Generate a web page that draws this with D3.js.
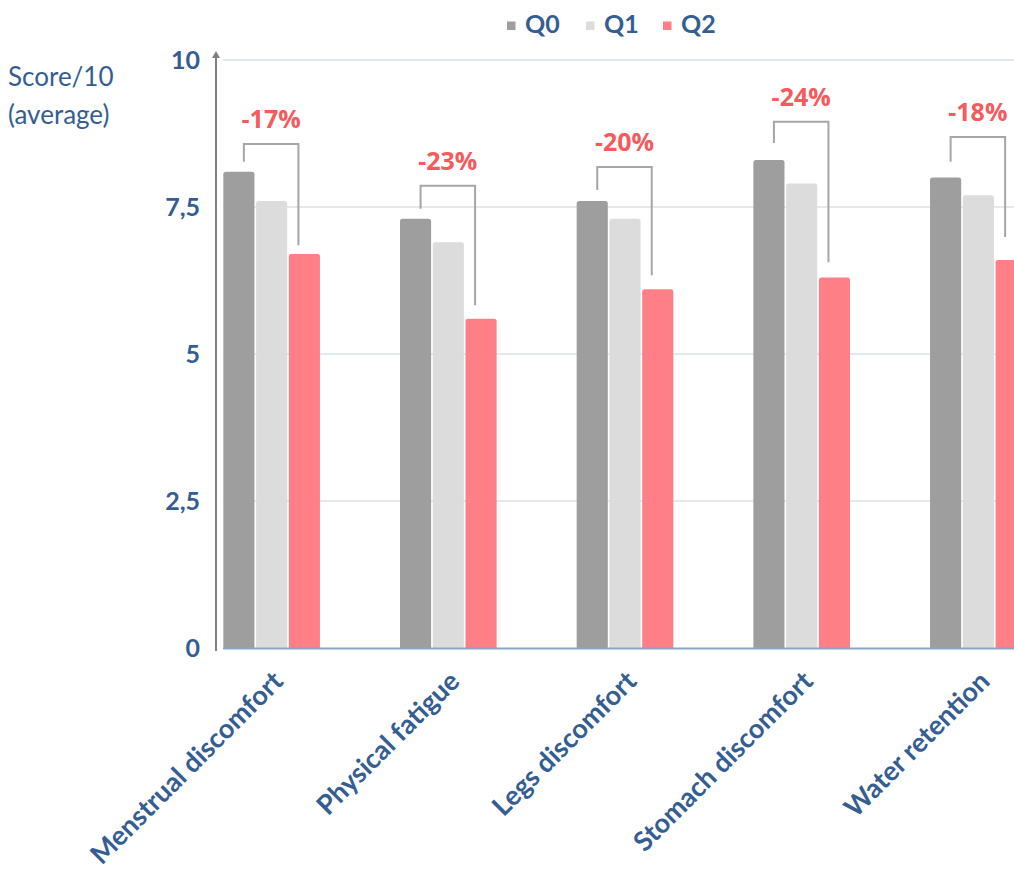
<!DOCTYPE html>
<html>
<head>
<meta charset="utf-8">
<script src="https://cdn.jsdelivr.net/npm/d3@7"></script>
<style>
  html, body { margin: 0; padding: 0; background: #fff; }
  svg { display: block; }
</style>
</head>
<body>
<svg id="chart" width="1014" height="873"></svg>
<script>
// Symptom scores (average /10) at three check-points
const categories = ["Menstrual discomfort", "Physical fatigue", "Legs discomfort", "Stomach discomfort", "Water retention"];
const seriesNames = ["Q0", "Q1", "Q2"];
const q0 = [8.1, 7.3, 7.6, 8.3, 8.0];
const q1 = [7.6, 6.9, 7.3, 7.9, 7.7];
const q2 = [6.7, 5.6, 6.1, 6.3, 6.6];
const changeLabels = ["-17%", "-23%", "-20%", "-24%", "-18%"];
// Bracket levels (score units): top bar, end above Q0, end above Q2
const bracketTop = [8.57, 7.86, 8.18, 8.95, 8.69];
const bracketFrom = [8.27, 7.47, 7.79, 8.59, 8.27];
const bracketTo = [6.85, 5.83, 6.34, 6.56, 6.99];
const yTicks = [0, 2.5, 5, 7.5, 10];
const yTickLabels = ["0", "2,5", "5", "7,5", "10"];

const seriesValues = [q0, q1, q2];
const colors = { Q0: "#9E9E9E", Q1: "#DCDCDC", Q2: "#FF7F87" };
const textBlue = "#345E92";
const red = "#F65A5C";

const svg = d3.select("#chart");

const axisX = 216;
const y = d3.scaleLinear().domain([0, 10]).range([648, 60]);
const x0 = d3.scaleBand().domain(categories).range([axisX, 1034]).paddingInner(0.453).paddingOuter(0.0414);
const x1 = d3.scaleBand().domain(seriesNames).range([0, x0.bandwidth()]).paddingInner(0.05);

// Gridlines
svg.append("g").selectAll("line").data(yTicks.filter(t => t > 0)).join("line")
  .attr("x1", 223).attr("x2", 1014)
  .attr("y1", d => y(d)).attr("y2", d => y(d))
  .attr("stroke", "#C9D4E1").attr("stroke-width", 1.2);

// Bars with slightly rounded tops
function barPath(x, yTop, w, yBase, r) {
  return `M${x},${yBase}V${yTop + r}Q${x},${yTop} ${x + r},${yTop}H${x + w - r}Q${x + w},${yTop} ${x + w},${yTop + r}V${yBase}Z`;
}
const barData = [];
categories.forEach((c, i) => {
  seriesNames.forEach((s, j) => barData.push({ cat: c, series: s, value: seriesValues[j][i] }));
});
svg.append("g").selectAll("path").data(barData).join("path")
  .attr("d", d => barPath(x0(d.cat) + x1(d.series), y(d.value), x1.bandwidth(), y(0), 2.5))
  .attr("fill", d => colors[d.series]);

// Baseline
svg.append("line").attr("x1", 223).attr("x2", 1014).attr("y1", y(0) + 0.5).attr("y2", y(0) + 0.5)
  .attr("stroke", "#8DA4C4").attr("stroke-width", 2);

// Y axis with arrow
svg.append("line").attr("x1", axisX).attr("x2", axisX).attr("y1", 651).attr("y2", 56)
  .attr("stroke", "#808080").attr("stroke-width", 2);
svg.append("path").attr("d", `M${axisX - 4},${58}L${axisX},${51}L${axisX + 4},${58}Z`).attr("fill", "#808080");

// Y tick labels
svg.append("g").selectAll("text").data(yTicks).join("text")
  .attr("x", 200).attr("y", d => y(d)).attr("dy", "0.36em")
  .attr("text-anchor", "end")
  .attr("font-family", "Lato, 'Open Sans', sans-serif").attr("font-weight", 700).attr("font-size", 25)
  .attr("fill", textBlue)
  .text((d, i) => yTickLabels[i]);

// Y title
const yTitle = svg.append("text").attr("font-family", "Lato, 'Open Sans', sans-serif").attr("font-size", 26).attr("fill", textBlue);
yTitle.append("tspan").attr("x", 8).attr("y", 86).text("Score/10");
yTitle.append("tspan").attr("x", 8).attr("y", 124).text("(average)");

// Category labels, rotated
svg.append("g").selectAll("text").data(categories).join("text")
  .attr("transform", d => `translate(${x0(d) + x0.bandwidth() / 2 + 13},${683}) rotate(-45)`)
  .attr("text-anchor", "end")
  .attr("font-family", "Lato, 'Open Sans', sans-serif").attr("font-weight", 700).attr("font-size", 27)
  .attr("fill", textBlue)
  .text(d => d);

// Change brackets and labels
const brackets = categories.map((c, i) => {
  const xl = x0(c) + x1("Q0") + x1.bandwidth() / 2 + 5;
  const xr = x0(c) + x1("Q2") + x1.bandwidth() / 2 - 6;
  return { xl, xr, top: y(bracketTop[i]), from: y(bracketFrom[i]), to: y(bracketTo[i]), label: changeLabels[i] };
});
svg.append("g").selectAll("path").data(brackets).join("path")
  .attr("d", d => `M${d.xl},${d.from}V${d.top}H${d.xr}V${d.to}`)
  .attr("fill", "none").attr("stroke", "#A6A6A6").attr("stroke-width", 2);
svg.append("g").selectAll("text").data(brackets).join("text")
  .attr("x", d => (d.xl + d.xr) / 2).attr("y", d => d.top - 16)
  .attr("text-anchor", "middle")
  .attr("font-family", "'Open Sans', sans-serif").attr("font-weight", 700).attr("font-size", 25)
  .attr("fill", red)
  .text(d => d.label);

// Legend
const legendX = [507, 586, 663];
const legend = svg.append("g").selectAll("g").data(seriesNames).join("g")
  .attr("transform", (d, i) => `translate(${legendX[i]},0)`);
legend.append("rect").attr("x", 0).attr("y", 21.5).attr("width", 8.5).attr("height", 8.5).attr("fill", d => colors[d]);
legend.append("text").attr("x", 18).attr("y", 33)
  .attr("font-family", "Lato, 'Open Sans', sans-serif").attr("font-weight", 700).attr("font-size", 25)
  .attr("fill", textBlue).text(d => d);
</script>
</body>
</html>
